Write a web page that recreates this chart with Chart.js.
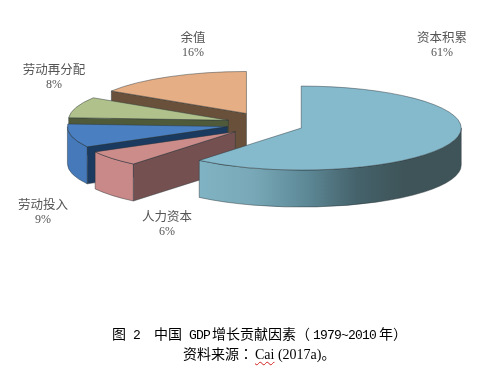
<!DOCTYPE html>
<html>
<head>
<meta charset="utf-8">
<script src="https://cdn.jsdelivr.net/npm/chart.js@4"></script>
<style>
html,body{margin:0;padding:0;background:#fff;overflow:hidden}
#wrap{position:relative;width:494px;height:373px;overflow:hidden}
canvas{position:absolute;left:0;top:0;filter:blur(0.35px)}
.cap{position:absolute;white-space:pre;color:#000;font-family:"Noto Sans CJK SC";font-size:14px;line-height:18px}
.m{font-family:"Liberation Mono";font-size:13px;letter-spacing:-0.8px}
.t{font-family:"Liberation Serif";font-size:14px}
.w{text-decoration:underline wavy #d02020 1px;text-underline-offset:2px}
</style>
</head>
<body>
<div id="wrap">
<canvas id="c" width="494" height="373"></canvas>
<div class="cap" style="left:112px;top:324px;">图<span class="m"> 2  </span>中国<span class="m"> GDP</span><span style="margin-left:2px">增长贡献因素（</span><span class="m" style="margin:0 3px">1979~2010</span>年）</div>
<div class="cap" style="left:183px;top:344px;">资料来源<span style="font-family:'Noto Sans CJK TC'">：</span><span class="t" style="margin-left:2px"><span class="w">Cai</span> (2017a)</span>。</div>
</div>
<script>
const categories = ['资本积累', '人力资本', '劳动投入', '劳动再分配', '余值'];
const shares = [61, 6, 9, 8, 16];
const topColors = ['#85B9CC', '#CB8C8A', '#4A7FC1', '#B0C18B', '#E6AE84'];
const rimColors = ['#7FB2C2', '#C98988', '#4579BA', '#8FA070', '#C08E68'];
const cutColors = ['#3E5458', '#745150', '#1B3A60', '#4F5A3B', '#69503A'];
const labelCentres = [[442, 37], [167, 216], [43, 204], [54, 69], [193, 37]];

const TILT = 0.2625, DEPTH = 37, EXPLODE_X = 38.5, EXPLODE_Y = 12;

const pie3d = {
  id: 'pie3d',
  beforeDatasetsDraw(chart) {
    const ctx = chart.ctx, arcs = chart.getDatasetMeta(0).data;
    const shift = a => [Math.cos(a) * EXPLODE_X, Math.sin(a) * EXPLODE_Y];
    [4, 3, 2, 1, 0].forEach(i => {
      const el = arcs[i], s = el.startAngle, e = el.endAngle, R = el.outerRadius;
      const [dx, dy] = shift((s + e) / 2);
      const ox = el.x + dx, oy = el.y + dy;
      const pt = a => [ox + Math.cos(a) * R, oy + Math.sin(a) * R * TILT];
      const ellipse = (a0, a1, d, ccw) => ctx.ellipse(ox, oy + d, R, R * TILT, 0, a0, a1, ccw);
      ctx.save();
      ctx.lineWidth = 0.7;
      ctx.strokeStyle = 'rgba(40,50,55,0.65)';
      // radial cut faces
      const face = a => {
        const p = pt(a);
        ctx.beginPath();
        ctx.moveTo(ox, oy); ctx.lineTo(p[0], p[1]);
        ctx.lineTo(p[0], p[1] + DEPTH); ctx.lineTo(ox, oy + DEPTH);
        ctx.closePath();
        ctx.fillStyle = cutColors[i];
        ctx.fill(); ctx.stroke();
      };
      if (Math.cos(s) < -1e-6) face(s);
      if (Math.cos(e) > 1e-6) face(e);
      // outer rim (front half only)
      const lo = Math.max(s, 0), hi = Math.min(e, Math.PI);
      if (hi > lo) {
        ctx.beginPath();
        ellipse(lo, hi, 0, false);
        ellipse(hi, lo, DEPTH, true);
        ctx.closePath();
        if (i === 0) {
          const g = ctx.createLinearGradient(ox - 102, 0, ox + R, 0);
          g.addColorStop(0, '#80B3C3');
          g.addColorStop(0.2, '#79A9B8');
          g.addColorStop(0.4, '#5E8A98');
          g.addColorStop(0.6, '#45626B');
          g.addColorStop(0.78, '#3E5458');
          g.addColorStop(1, '#3E5458');
          ctx.fillStyle = g;
        } else ctx.fillStyle = rimColors[i];
        ctx.fill(); ctx.stroke();
      }
      // top face: the library's own arc, squashed
      ctx.save();
      ctx.translate(ox, oy);
      ctx.scale(1, TILT);
      ctx.translate(-el.x, -el.y);
      el.draw(ctx);
      ctx.restore();
      ctx.beginPath();
      ctx.moveTo(ox, oy);
      ellipse(s, e, 0, false);
      ctx.closePath();
      ctx.stroke();
      ctx.restore();
    });
    // labels
    ctx.save();
    ctx.textAlign = 'center';
    ctx.textBaseline = 'middle';
    ctx.fillStyle = '#555555';
    categories.forEach((name, i) => {
      const [lx, ly] = labelCentres[i];
      ctx.font = '12.5px "Noto Sans CJK SC"';
      ctx.fillText(name, lx, ly);
      ctx.font = '12px "Liberation Serif"';
      ctx.fillText(shares[i] + '%', lx, ly + 16);
    });
    ctx.restore();
    return false;
  }
};

new Chart(document.getElementById('c'), {
  type: 'pie',
  data: {
    labels: categories,
    datasets: [{ data: shares, backgroundColor: topColors, borderWidth: 0 }]
  },
  options: {
    responsive: false,
    animation: false,
    radius: 160,
    layout: { padding: { left: 36, bottom: 125 } },
    plugins: { legend: { display: false }, tooltip: { enabled: false }, title: { display: false } }
  },
  plugins: [pie3d]
});
</script>
</body>
</html>
